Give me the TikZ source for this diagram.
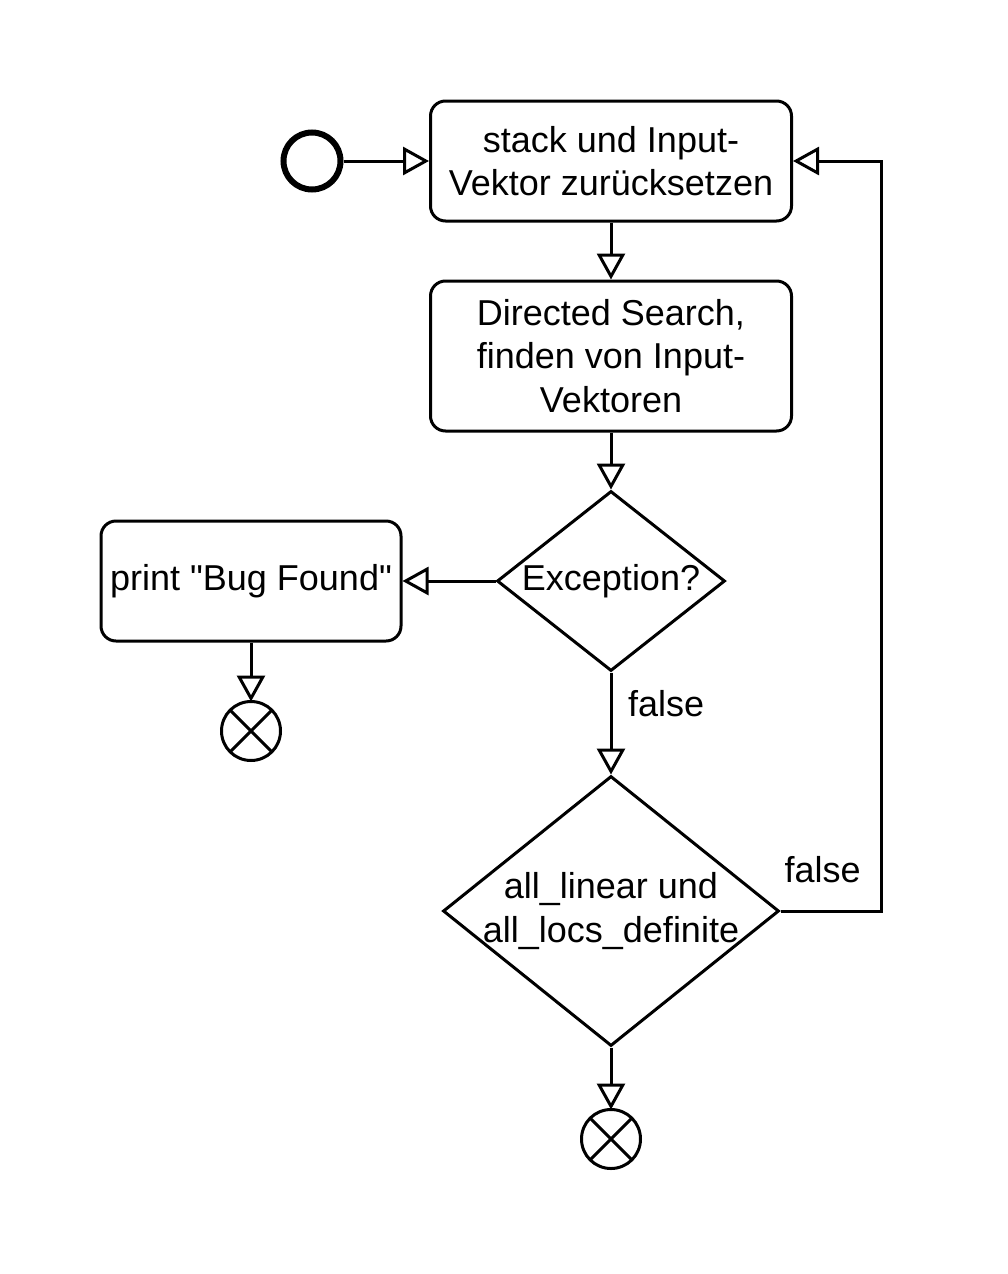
\documentclass[tikz,border=0pt]{standalone}
\usepackage{fontspec}
\setmainfont{Liberation Sans}[Ligatures=TeXOff]
\usetikzlibrary{arrows.meta,shapes.geometric}
\begin{document}
\begin{tikzpicture}[x=0.5pt, y=-0.5pt, line width=1.5pt, font=\fontsize{18}{21.6}\selectfont,
	flow/.style={-{Triangle[open,length=13pt,width=14pt]}},
	activity/.style={draw, rounded corners=7.5pt, align=center, minimum width=180.5pt, inner sep=0pt},
	decision/.style={draw, diamond, aspect=1.25, align=center, inner sep=-4pt},
	endnode/.style={draw, circle, minimum size=29.5pt, inner sep=0pt, outer sep=0pt}]
	\useasboundingbox (0,0) rectangle (1007,1274);
	\node[draw, circle, line width=3pt, minimum size=28.5pt, inner sep=0pt] (start) at (312,161) {};
	\node[activity, minimum height=60pt] (reset) at (611,161) {stack und Input-\\Vektor zurücksetzen};
	\node[activity, minimum height=75pt] (search) at (611,356) {Directed Search,\\finden von Input-\\Vektoren};
	\node[decision, minimum width=114pt, minimum height=90pt] (exc) at (611,581) {Exception?};
	\node[activity, minimum width=150pt, minimum height=60pt] (bug) at (251,581) {print "Bug Found"};
	\node[endnode] (end1) at (251,731) {};
	\node[decision, minimum width=168pt, minimum height=135pt] (lin) at (611,911) {all\_linear und\\all\_locs\_definite};
	\node[endnode] (end2) at (611,1139) {};
	\coordinate (back) at (881,161);
	\foreach \e in {end1,end2}{
		\draw (\e.north east)--(\e.south west) (\e.north west)--(\e.south east);}
	\draw[flow] (start)--(reset);
	\draw[flow] (reset)--(search);
	\draw[flow] (search)--(exc);
	\draw[flow] (exc.west)--(bug);
	\draw[flow] (bug)--(end1);
	\draw[flow] (exc.south)--node[pos=0.31, right=4.5pt]{false} (lin.north);
	\draw[flow] (lin.south)--(end2);
	\draw[flow] (lin.east) -| node[pos=0.21, above=10pt]{false} (back)--(reset.east);
\end{tikzpicture}
\end{document}
